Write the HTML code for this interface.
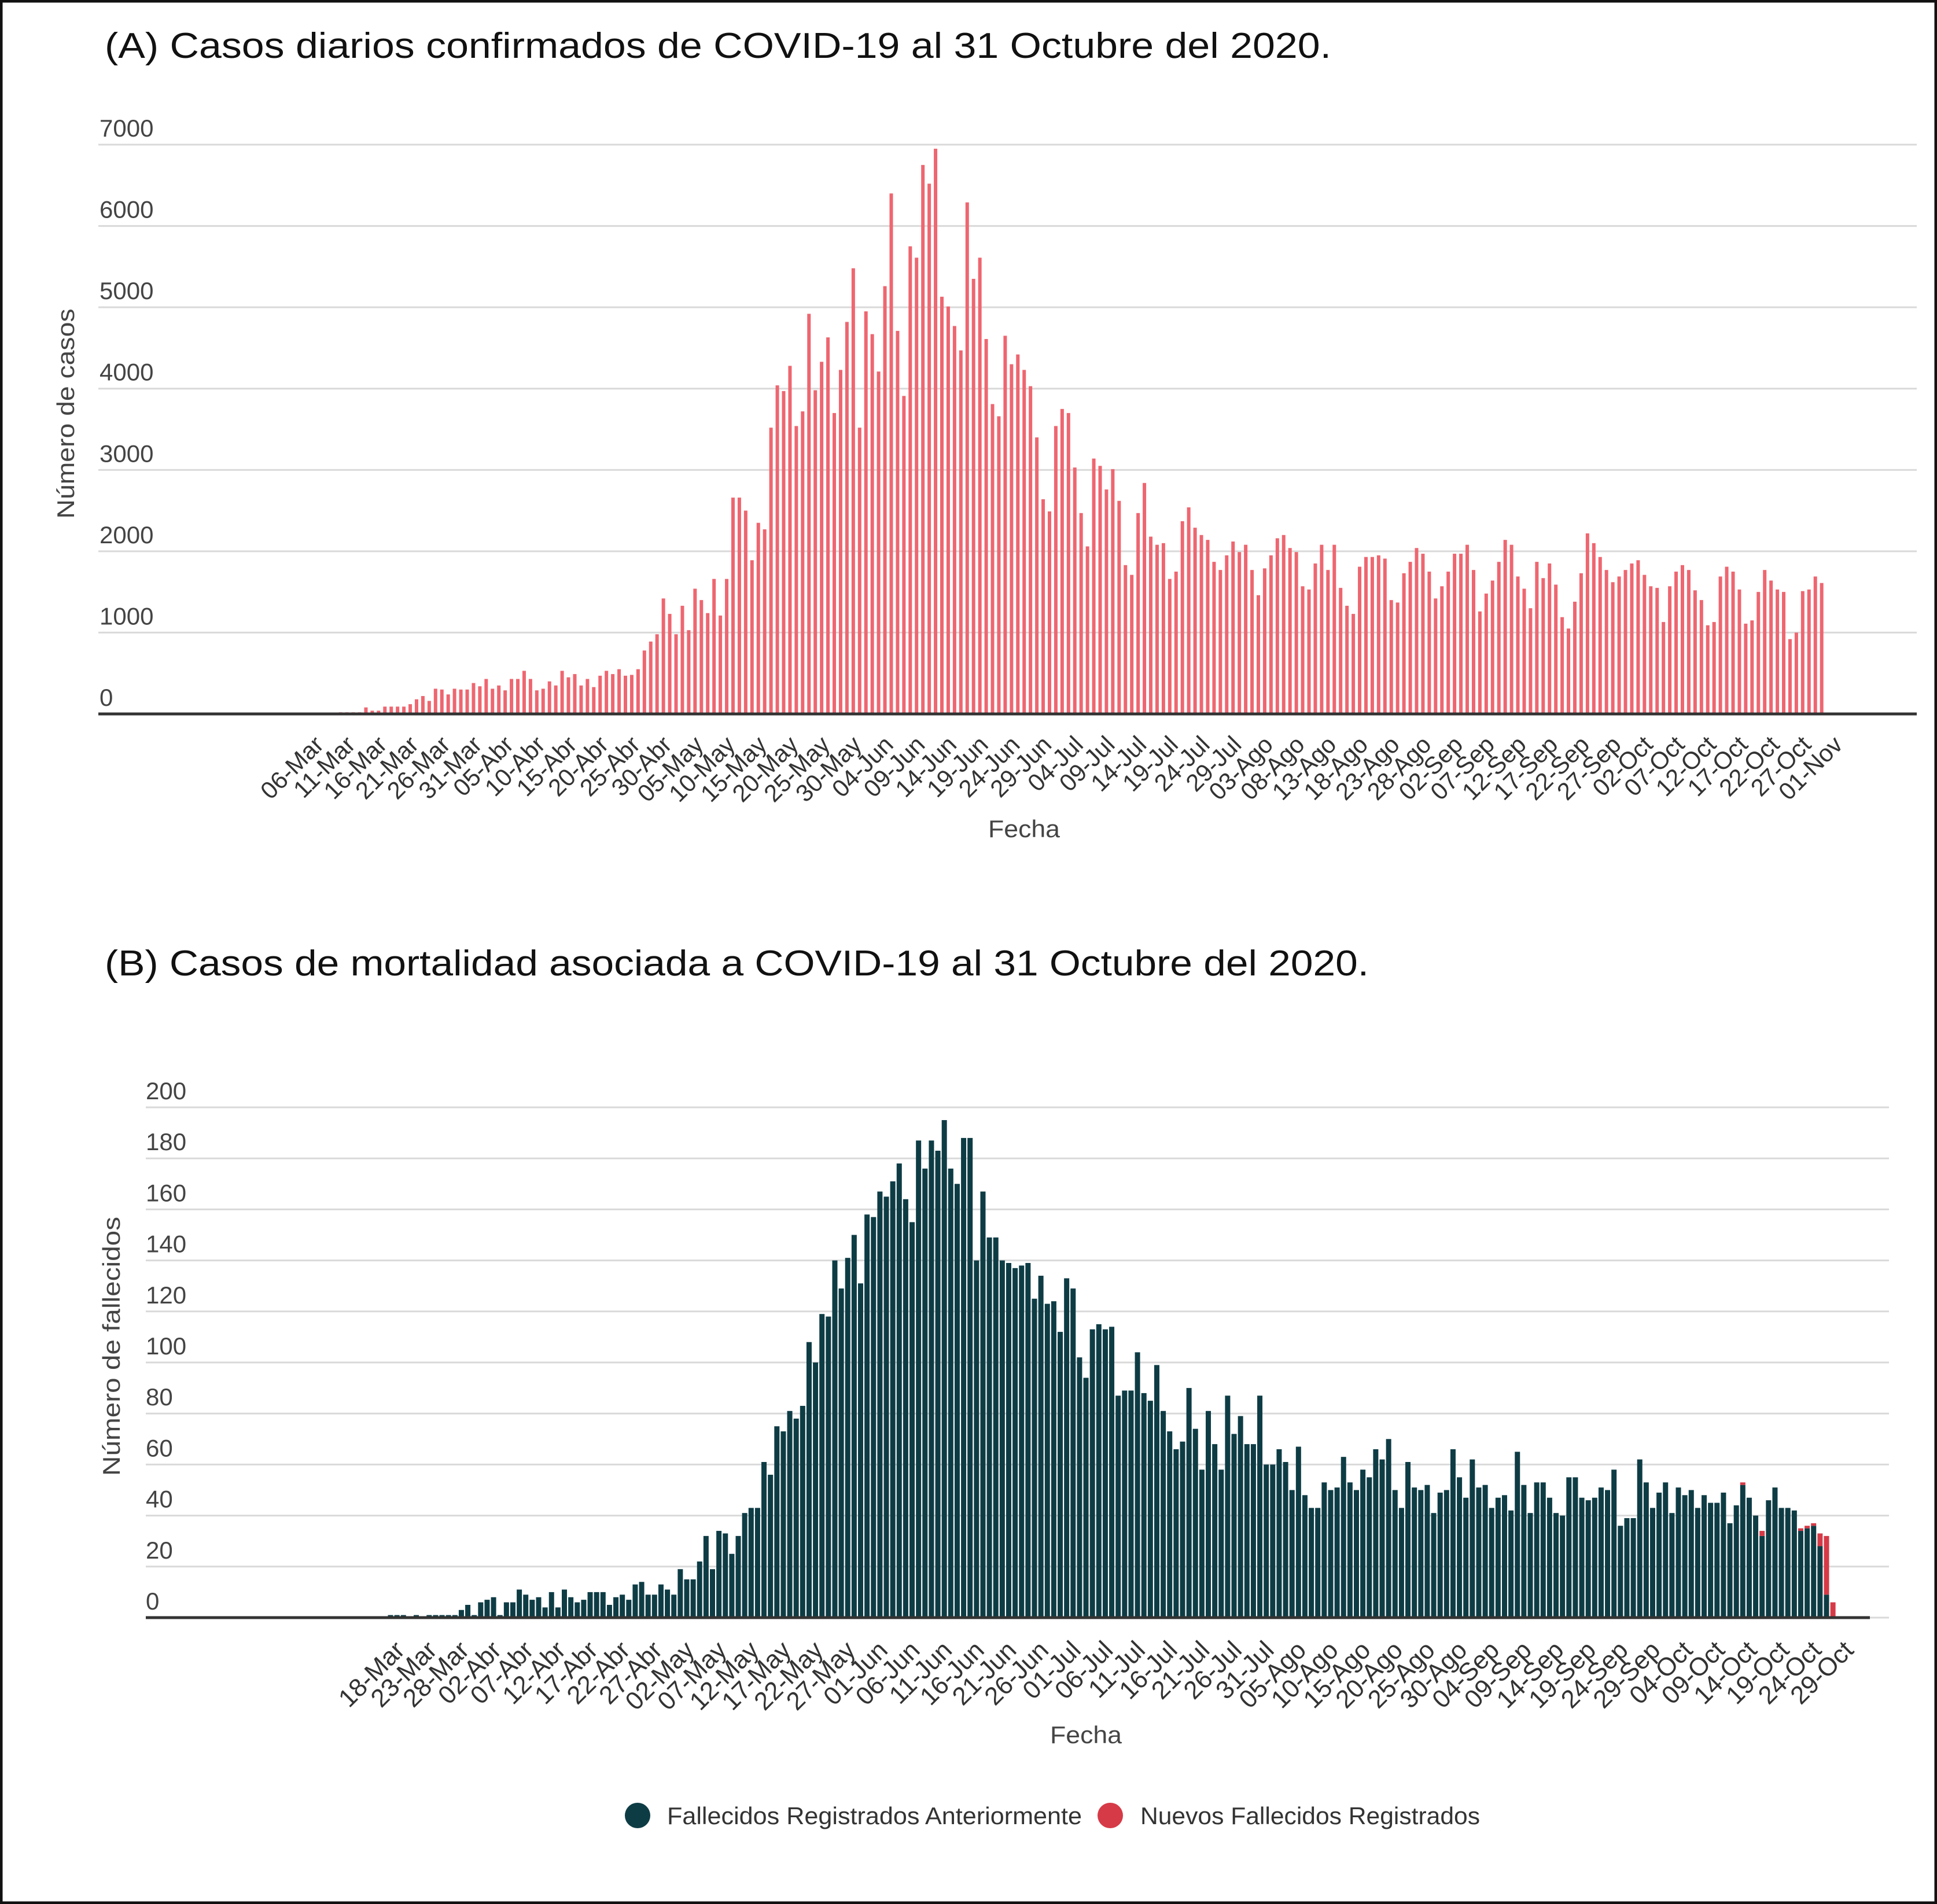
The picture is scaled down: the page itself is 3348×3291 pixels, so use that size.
<!DOCTYPE html>
<html><head><meta charset="utf-8">
<style>
html,body{margin:0;padding:0;background:#fff;}
svg{display:block;}
text{font-family:"Liberation Sans",sans-serif;}
</style></head>
<body>
<svg id="root" width="3348" height="3291" viewBox="0 0 3348 3291" xmlns="http://www.w3.org/2000/svg">
<rect x="2" y="2" width="3344" height="3287" fill="#fff" stroke="#111" stroke-width="5"/>
<text x="181" y="100" font-size="62" fill="#111" textLength="2120" lengthAdjust="spacingAndGlyphs">(A) Casos diarios confirmados de COVID-19 al 31 Octubre del 2020.</text>
<text x="181" y="1686" font-size="62" fill="#111" textLength="2185" lengthAdjust="spacingAndGlyphs">(B) Casos de mortalidad asociada a COVID-19 al 31 Octubre del 2020.</text>
<g id="chartA"></g>
<g id="chartB"></g>
<text x="128" y="715" font-size="42" fill="#444" text-anchor="middle" transform="rotate(-90 128 715)" textLength="363" lengthAdjust="spacingAndGlyphs">Número de casos</text>
<text x="1770" y="1447" font-size="42" fill="#444" text-anchor="middle" textLength="124" lengthAdjust="spacingAndGlyphs">Fecha</text>
<text x="207" y="2327" font-size="42" fill="#444" text-anchor="middle" transform="rotate(-90 207 2327)" textLength="448" lengthAdjust="spacingAndGlyphs">Número de fallecidos</text>
<text x="1877" y="3013" font-size="42" fill="#444" text-anchor="middle" textLength="124" lengthAdjust="spacingAndGlyphs">Fecha</text>
<g>
<g>
<circle cx="1102" cy="3138" r="22" fill="#0e3c45"/>
<text x="1153" y="3153" font-size="42" fill="#333" textLength="717" lengthAdjust="spacingAndGlyphs">Fallecidos Registrados Anteriormente</text>
</g>
<g>
<circle cx="1919" cy="3138" r="22" fill="#d63a47"/>
<text x="1971" y="3153" font-size="42" fill="#333" textLength="587" lengthAdjust="spacingAndGlyphs">Nuevos Fallecidos Registrados</text>
</g>
</g>
</svg>
<script>
// ---------- Chart A data ----------
const casesStartDay = 5; // first bar (11-Mar) is 5 days after 06-Mar
const casesValues = [20,20,20,20,80,40,40,90,90,90,90,120,180,220,160,310,300,240,310,300,300,380,340,430,310,350,290,430,430,530,430,290,310,400,350,530,450,490,350,430,330,470,530,490,550,470,480,550,780,890,980,1420,1230,980,1330,1030,1540,1400,1240,1660,1210,1660,2660,2660,2500,1890,2350,2270,3520,4040,3970,4280,3540,3720,4920,3980,4330,4630,3700,4230,
4820,5480,3520,4950,4670,4210,5260,6400,4710,3910,5750,5610,6750,6520,6950,5130,5010,4770,4470,6290,5350,5610,4610,3810,3660,4650,4300,4420,4230,4030,3400,2640,2490,3540,3750,3700,3030,2470,2060,3140,3050,2760,3010,2620,1830,1710,2470,2840,2180,2080,2100,1660,1750,2370,2540,2290,2200,2140,1870,1770,1950,2120,1990,2080,1770,1460,1790,1950,2160,2200,2040,1990,1570,1530,1850,2080,1770,2080,1550,
1330,1230,1810,1930,1930,1950,1910,1400,1370,1730,1870,2040,1970,1750,1420,1570,1750,1970,1970,2080,1770,1260,1480,1640,1870,2140,2080,1690,1540,1300,1870,1670,1850,1590,1190,1050,1380,1730,2220,2100,1930,1770,1620,1690,1770,1850,1890,1710,1570,1550,1130,1570,1750,1830,1770,1520,1400,1090,1130,1690,1810,1750,1530,1110,1150,1500,1770,1640,1530,1500,920,1000,1510,1530,1690,1610];
const casesTicks = [0,1000,2000,3000,4000,5000,6000,7000];
const casesDateLabels = ["06-Mar","11-Mar","16-Mar","21-Mar","26-Mar","31-Mar","05-Abr","10-Abr","15-Abr","20-Abr","25-Abr","30-Abr","05-May","10-May","15-May","20-May","25-May","30-May","04-Jun","09-Jun","14-Jun","19-Jun","24-Jun","29-Jun","04-Jul","09-Jul","14-Jul","19-Jul","24-Jul","29-Jul","03-Ago","08-Ago","13-Ago","18-Ago","23-Ago","28-Ago","02-Sep","07-Sep","12-Sep","17-Sep","22-Sep","27-Sep","02-Oct","07-Oct","12-Oct","17-Oct","22-Oct","27-Oct","01-Nov"];

// ---------- Chart B data ----------
const deathsPrev = [1,1,1,0,1,0,1,1,1,1,1,3,5,1,6,7,8,1,6,6,11,9,7,8,4,10,4,11,8,6,7,10,10,10,5,8,9,7,13,14,9,9,13,11,9,19,15,15,22,32,19,34,33,25,32,41,43,43,61,56,75,73,81,78,83,108,100,119,118,140,129,141,150,131,158,157,
167,165,171,178,164,155,187,176,187,183,195,176,170,188,188,140,167,149,149,140,139,137,138,139,125,134,123,124,112,133,129,102,94,113,115,113,114,87,89,89,104,88,85,99,81,73,66,69,90,74,58,81,68,58,87,72,79,68,68,87,60,60,66,61,50,67,48,43,43,53,50,51,63,53,50,58,55,66,62,70,
50,43,61,51,50,52,41,49,50,66,55,47,62,51,52,43,47,48,42,65,52,41,53,53,47,41,40,55,55,47,46,47,51,50,58,36,39,39,62,53,43,49,53,41,51,48,50,43,48,45,45,49,37,44,52,47,40,32,46,51,43,43,42,34,35,36,28,9,0];
const deathsNewTail = [0,0,0,0,1,0,0,2,0,0,0,0,0,1,1,1,5,23,6];
const deathsTicks = [0,20,40,60,80,100,120,140,160,180,200];
const deathsDateLabels = ["18-Mar","23-Mar","28-Mar","02-Abr","07-Abr","12-Abr","17-Abr","22-Abr","27-Abr","02-May","07-May","12-May","17-May","22-May","27-May","01-Jun","06-Jun","11-Jun","16-Jun","21-Jun","26-Jun","01-Jul","06-Jul","11-Jul","16-Jul","21-Jul","26-Jul","31-Jul","05-Ago","10-Ago","15-Ago","20-Ago","25-Ago","30-Ago","04-Sep","09-Sep","14-Sep","19-Sep","24-Sep","29-Sep","04-Oct","09-Oct","14-Oct","19-Oct","24-Oct","29-Oct"];
const deathsNew = [];
for (let i = 0; i < deathsPrev.length; i++) deathsNew.push(0);
for (let k = 0; k < deathsNewTail.length; k++) deathsNew[deathsPrev.length - deathsNewTail.length + k] = deathsNewTail[k];

const NS = "http://www.w3.org/2000/svg";
function mk(tag, attrs, parent) {
  const el = document.createElementNS(NS, tag);
  for (const k in attrs) el.setAttribute(k, attrs[k]);
  parent.appendChild(el);
  return el;
}

// ---------- Draw chart A ----------
(function(){
  const g = document.getElementById('chartA');
  const y0 = 1234, yTop = 250, vMax = 7000;
  const yA = v => y0 - (v / vMax) * (y0 - yTop);
  const x0 = 534, step = 10.94;
  const xA = day => x0 + day * step;
  casesTicks.forEach(t => {
    const ln = mk('line', {x1:170, x2:3313, y1:yA(t), y2:yA(t), stroke:'#d9d9d9', 'stroke-width':3}, g);
    
    
    const tx = mk('text', {x:172, y:yA(t) - 14, 'font-size':42, fill:'#444'}, g);
    tx.textContent = String(t);
    
    
  });
  casesValues.forEach((v, i) => {
    const cx = xA(i + casesStartDay);
    const r = mk('rect', {x:cx - 3, y:yA(v), width:6, height:y0 - yA(v), fill:'#ee6670'}, g);
    
    
  });
  const ax = mk('line', {x1:170, x2:3313, y1:y0, y2:y0, stroke:'#333', 'stroke-width':5}, g);
  
  
  casesDateLabels.forEach((lab, k) => {
    const x = xA(k * 5) + 4, y = y0 + 32;
    const t = mk('text', {x:x, y:y, 'font-size':42, fill:'#333', 'text-anchor':'end', transform:'rotate(-45 ' + x + ' ' + y + ')', dy:'0.8em'}, g);
    t.textContent = lab;
    
    
  });
})();

// ---------- Draw chart B ----------
(function(){
  const g = document.getElementById('chartB');
  const y0 = 2796, yTop = 1914, vMax = 200;
  const yB = v => y0 - (v / vMax) * (y0 - yTop);
  const x0 = 675, step = 11.13;
  const xB = idx => x0 + idx * step;
  deathsTicks.forEach(t => {
    const ln = mk('line', {x1:252, x2:3265, y1:yB(t), y2:yB(t), stroke:'#d9d9d9', 'stroke-width':3}, g);
    
    
    const tx = mk('text', {x:252, y:yB(t) - 14, 'font-size':42, fill:'#444'}, g);
    tx.textContent = String(t);
    
    
  });
  deathsPrev.forEach((v, i) => {
    const cx = xB(i);
    const r = mk('rect', {x:cx - 4.5, y:yB(v), width:9, height:y0 - yB(v), fill:'#0e3c45'}, g);
    
    
    const n = deathsNew[i];
    if (n > 0) {
      const r2 = mk('rect', {x:cx - 4.5, y:yB(v + n), width:9, height:yB(v) - yB(v + n), fill:'#d63a47'}, g);
      
      
    }
  });
  const ax = mk('line', {x1:252, x2:3232, y1:y0, y2:y0, stroke:'#333', 'stroke-width':5}, g);
  
  
  deathsDateLabels.forEach((lab, k) => {
    const x = xB(k * 5) + 2, y = y0 + 34;
    const t = mk('text', {x:x, y:y, 'font-size':44, fill:'#333', 'text-anchor':'end', transform:'rotate(-45 ' + x + ' ' + y + ')', dy:'0.8em'}, g);
    t.textContent = lab;
    
    
  });
})();
</script>
</body></html>
